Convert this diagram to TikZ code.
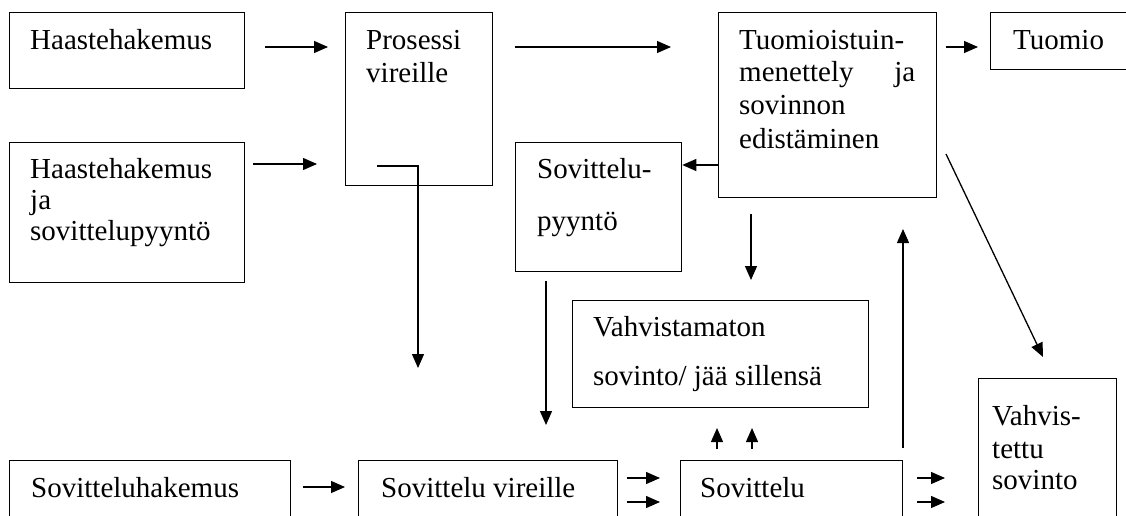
\documentclass[tikz,border=0pt]{standalone}
\usepackage{fontspec}
\setmainfont{Liberation Serif}
\usetikzlibrary{arrows.meta}
\begin{document}
\begin{tikzpicture}[x=1pt,y=-1pt,
  box/.style={draw, line width=1.3pt, anchor=north west, inner sep=0pt},
  txt/.style={anchor=base west, inner sep=0pt, font=\fontsize{29}{33}\selectfont},
  arr/.style={line width=1.3pt, -{Triangle[length=14pt,width=12pt]}}]
\useasboundingbox (0,0) rectangle (1126,516);
\clip (0,0) rectangle (1126,516);
% boxes
\node[box, minimum width=235pt, minimum height=76pt]  (b1)  at (9,12) {};
\node[box, minimum width=147pt, minimum height=173pt] (b2)  at (345,12) {};
\node[box, minimum width=235pt, minimum height=140pt] (b3)  at (9,142) {};
\node[box, minimum width=166pt, minimum height=129pt] (b4)  at (515,142) {};
\node[box, minimum width=218pt, minimum height=185pt] (b5)  at (718,12) {};
\node[box, minimum width=160pt, minimum height=57pt]  (b6)  at (990,12) {};
\node[box, minimum width=296pt, minimum height=107pt] (b7)  at (572,300) {};
\node[box, minimum width=281pt, minimum height=80pt]  (b8)  at (9,460) {};
\node[box, minimum width=259pt, minimum height=80pt]  (b9)  at (358,460) {};
\node[box, minimum width=222pt, minimum height=80pt]  (b10) at (680,460) {};
\node[box, minimum width=138pt, minimum height=160pt] (b11) at (978,378) {};
% texts
\node[txt] (t1)  at (30,50)  {Haastehakemus};
\node[txt] (t2a) at (366,50) {Prosessi};
\node[txt] (t2b) at (366,83) {vireille};
\node[txt] (t3a) at (30,178) {Haastehakemus};
\node[txt] (t3b) at (30,209) {ja};
\node[txt] (t3c) at (30,240) {sovittelupyyntö};
\node[txt] (t4a) at (537,178) {Sovittelu-};
\node[txt] (t4b) at (537,230) {pyyntö};
\node[txt] (t5a) at (739,50)  {Tuomioistuin-};
\node[txt] (t5b) at (739,82)  {\hbox to 176pt{menettely\hfill ja}};
\node[txt] (t5c) at (739,115) {sovinnon};
\node[txt] (t5d) at (739,148) {edistäminen};
\node[txt] (t6)  at (1013,50) {Tuomio};
\node[txt] (t7a) at (593,336) {Vahvistamaton};
\node[txt] (t7b) at (593,385) {sovinto/ jää sillensä};
\node[txt] (t8)  at (31,497)  {Sovitteluhakemus};
\node[txt] (t9)  at (381,497) {Sovittelu vireille};
\node[txt] (t10) at (700,497) {Sovittelu};
\node[txt] (t11a) at (992,425) {Vahvis-};
\node[txt] (t11b) at (992,458) {tettu};
\node[txt] (t11c) at (992,489) {sovinto};
% connector end points
\coordinate (a1s) at (265,47);  \coordinate (a1e) at (328,47);
\coordinate (a2s) at (253,164); \coordinate (a2e) at (317,164);
\coordinate (a3s) at (515,47);  \coordinate (a3e) at (671,47);
\coordinate (a4s) at (946,47);  \coordinate (a4e) at (978,47);
\coordinate (y5)  at (0,165);
\coordinate (a6s) at (377,166); \coordinate (a6m) at (418,166); \coordinate (a6e) at (418,368);
\coordinate (a7s) at (546,281); \coordinate (a7e) at (546,425);
\coordinate (a8s) at (751,214); \coordinate (a8e) at (751,280);
\coordinate (a9s) at (903,448); \coordinate (a9e) at (903,229);
\coordinate (a10s) at (946,154); \coordinate (a10e) at (1043,357);
\coordinate (a11s) at (717,449); \coordinate (a11e) at (717,428);
\coordinate (a12s) at (752,449); \coordinate (a12e) at (752,428);
\coordinate (a13s) at (627,478); \coordinate (a13e) at (660,478);
\coordinate (a14s) at (627,502); \coordinate (a14e) at (660,502);
\coordinate (a15s) at (303,487); \coordinate (a15e) at (345,487);
\coordinate (a16s) at (917,478); \coordinate (a16e) at (945,478);
\coordinate (a17s) at (917,502); \coordinate (a17e) at (945,502);
% connectors
\draw[arr] (a1s) -- (a1e);
\draw[arr] (a2s) -- (a2e);
\draw[arr] (a3s) -- (a3e);
\draw[arr] (a4s) -- (a4e);
\draw[arr] (b5.west |- y5) -- (b4.east |- y5);
\draw[arr] (a6s) -- (a6m) -- (a6e);
\draw[arr] (a7s) -- (a7e);
\draw[arr] (a8s) -- (a8e);
\draw[arr] (a9s) -- (a9e);
\draw[arr] (a10s) -- (a10e);
\draw[arr] (a11s) -- (a11e);
\draw[arr] (a12s) -- (a12e);
\draw[arr] (a13s) -- (a13e);
\draw[arr] (a14s) -- (a14e);
\draw[arr] (a15s) -- (a15e);
\draw[arr] (a16s) -- (a16e);
\draw[arr] (a17s) -- (a17e);
\end{tikzpicture}
\end{document}
